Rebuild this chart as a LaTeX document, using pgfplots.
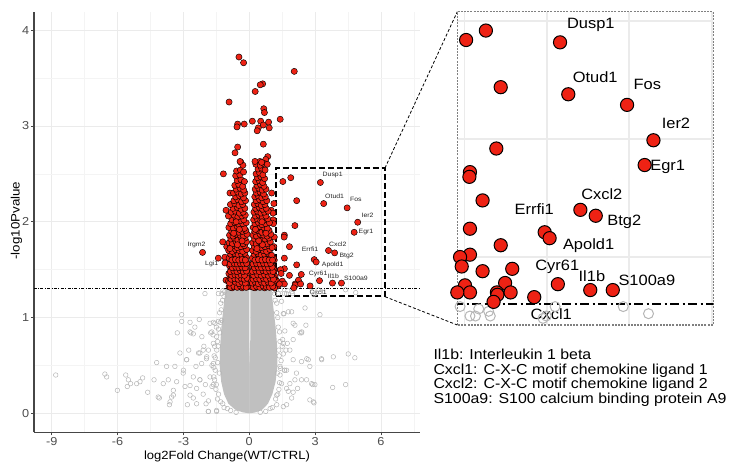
\documentclass[border=0pt]{standalone}
\usepackage{pgfplots}
\pgfplotsset{compat=1.18}
\usepackage{pgfplotstable}
\usepackage{fontspec}
\setmainfont{Liberation Sans}[FakeStretch=1.1]
\definecolor{ptred}{RGB}{238,34,20}
\definecolor{ptgray}{RGB}{182,182,182}
\definecolor{blobgray}{RGB}{192,192,192}
\definecolor{gridmaj}{RGB}{235,235,235}
\definecolor{gridmin}{RGB}{244,244,244}
\definecolor{ticktxt}{RGB}{77,77,77}
\definecolor{axisline}{RGB}{70,70,70}

% scattered non-significant genes (open grey circles)
\pgfplotstableread{
x y
-8.82 0.40
-6.58 0.41
-6.50 0.38
-6.01 0.24
-5.63 0.40
-5.51 0.35
-5.56 0.28
-5.41 0.31
-5.13 0.31
-4.86 0.37
-4.98 0.33
-4.63 0.22
-4.34 0.35
-4.22 0.53
-4.15 0.17
-4.10 0.16
-3.92 0.31
-3.77 0.49
-3.69 0.35
-3.64 0.09
-3.54 0.17
-3.46 0.24
-3.39 0.49
-3.31 0.33
-3.28 0.84
-3.16 0.63
-3.08 1.03
-3.08 0.96
-3.01 0.42
-2.93 0.28
-2.86 0.56
-2.82 0.09
-2.76 0.66
-2.70 0.95
-2.66 0.84
-2.55 0.16
-2.48 0.90
-2.43 0.49
-2.31 0.63
-2.28 0.98
-2.25 0.35
-2.16 0.80
-2.07 0.70
-2.02 1.25
-1.97 0.10
-1.94 0.59
-1.87 0.02
-1.79 0.94
-1.76 0.84
-1.70 0.28
-1.64 0.73
-1.56 0.94
-1.49 0.02
-1.41 1.25
-1.34 0.84
-1.26 0.97
-1.21 0.10
-2.70 0.85
-2.55 0.83
-1.71 0.85
-1.64 0.95
-1.41 0.96
-1.49 0.80
-2.10 0.66
-2.25 0.63
-1.86 0.66
-1.95 0.57
-2.17 0.52
-1.64 0.52
-2.85 0.56
-3.00 0.45
-2.55 0.38
-2.25 0.35
-1.79 0.38
-2.00 0.30
-1.64 0.30
-2.70 0.29
-2.40 0.26
-3.46 0.19
-3.61 0.12
-2.70 0.19
-2.10 0.20
-1.86 0.13
-2.40 0.10
-1.49 0.03
-1.86 0.02
-1.50 0.30
-1.55 0.45
-1.60 0.60
-1.45 0.75
-1.50 0.90
-1.35 1.05
-1.30 1.15
-1.25 1.25
-1.40 0.20
-1.30 0.12
-1.15 0.06
-1.62 0.38
-1.70 0.50
-1.58 0.70
-1.65 0.82
-1.20 1.28
-1.12 1.27
-1.45 0.15
-1.52 0.25
-1.58 0.35
-1.62 0.48
-1.55 0.58
-1.48 0.66
-1.42 0.70
-1.40 0.88
-1.32 0.95
-1.28 1.08
-1.22 1.18
-1.15 1.22
-1.00 0.05
-0.85 0.03
-0.60 0.01
-1.36 0.42
-1.44 0.53
1.32 1.25
1.47 1.17
1.58 1.04
1.70 1.25
1.78 1.06
1.93 1.06
2.00 0.94
2.00 0.77
2.31 0.84
2.38 0.84
2.54 1.10
2.58 0.92
2.00 0.56
2.08 0.35
2.20 0.26
2.38 0.54
2.69 0.56
2.76 0.49
2.84 0.31
2.89 0.30
2.76 0.14
2.95 0.11
3.22 1.03
3.29 0.57
3.83 0.59
4.51 0.62
4.81 0.58
4.39 0.30
1.67 0.66
1.73 0.73
1.52 0.77
1.62 0.45
1.85 0.31
1.78 0.23
1.93 0.16
1.70 0.09
1.55 1.04
2.08 0.92
1.62 0.86
2.39 0.85
1.55 0.73
1.85 0.66
2.62 0.57
3.30 0.56
1.40 0.49
1.70 0.45
2.15 0.42
2.38 0.35
1.47 0.31
1.70 0.26
1.25 0.19
2.00 0.22
2.61 0.35
2.99 0.30
2.92 0.12
3.80 0.27
1.25 0.09
1.55 0.07
1.35 0.25
1.40 0.40
1.45 0.55
1.50 0.70
1.38 0.85
1.30 1.00
1.25 1.15
1.15 1.25
1.20 0.15
1.05 0.06
1.55 0.62
1.60 0.45
1.30 0.20
1.38 0.32
1.42 0.47
1.36 0.60
1.40 0.75
1.32 0.90
1.25 1.05
1.18 1.18
1.10 1.28
0.95 0.05
0.75 0.02
0.50 0.01
1.28 0.42
1.34 0.66
1.42 1.29
1.76 1.28
1.94 1.27
1.60 1.25
1.97 1.25
3.15 1.29
4.39 1.29
4.85 1.26
2.93 1.24
2.99 1.25
}\graytab

% outline of the dense cloud of non-significant genes (left and right halves)
\pgfplotstableread{
x y
0.00 0.00
-0.30 0.01
-0.65 0.04
-0.95 0.10
-1.15 0.20
-1.28 0.33
-1.35 0.50
-1.33 0.70
-1.27 0.90
-1.18 1.10
-1.08 1.30
-0.02 1.30
-0.02 0.80
0.02 0.45
0.02 0.00
}\blobL
\pgfplotstableread{
x y
0.00 0.00
0.30 0.01
0.60 0.04
0.85 0.10
1.05 0.20
1.20 0.33
1.28 0.50
1.27 0.70
1.20 0.90
1.10 1.10
1.00 1.30
0.05 1.30
0.05 0.80
0.00 0.45
}\blobR

% significant genes (red)
\pgfplotstableread{
x y
-0.47 3.72
-0.26 3.66
2.05 3.57
0.61 3.44
0.50 3.43
0.27 3.36
-0.92 3.25
0.66 3.18
0.69 3.14
1.41 3.07
0.14 3.05
0.52 3.05
0.88 3.04
-0.53 3.02
-0.23 3.02
-0.56 2.99
0.64 3.01
0.91 2.98
0.41 2.98
0.36 2.95
0.64 2.81
-0.53 2.78
-0.65 2.72
0.84 2.68
0.75 2.65
-0.38 2.62
0.49 2.63
-2.13 1.68
-1.41 1.62
-1.18 2.50
-0.88 2.30
-1.06 2.12
-1.21 1.79
-1.11 1.63
-1.11 1.57
-1.03 1.74
-1.06 1.39
1.02 2.30
1.00 2.12
1.09 2.02
1.12 2.19
1.08 2.09
1.10 1.98
1.14 1.84
1.12 1.74
1.14 1.60
1.16 1.50
1.18 1.41
1.20 1.34
1.13 1.48
1.17 1.43
1.26 1.38
1.30 1.33
1.53 2.42
1.89 2.46
2.16 2.22
2.08 1.96
1.60 1.86
1.59 1.84
1.83 1.74
1.60 1.62
2.16 1.55
1.60 1.51
1.42 1.50
1.45 1.46
1.83 1.44
2.37 1.45
2.24 1.39
1.51 1.38
1.60 1.35
2.09 1.35
2.10 1.34
2.03 1.31
2.34 1.35
1.37 1.35
2.77 1.33
3.24 2.41
3.39 2.19
4.46 2.145
4.94 1.995
4.78 1.89
3.61 1.70
3.89 1.675
2.96 1.605
3.05 1.58
3.20 1.385
3.79 1.36
4.20 1.36
-0.92 1.32
-0.78 1.31
-0.62 1.33
-0.48 1.32
-0.33 1.31
-0.20 1.33
-0.08 1.32
-0.85 1.35
-0.70 1.36
-0.55 1.34
-0.40 1.35
-0.27 1.36
-0.12 1.35
-0.95 1.38
-0.80 1.39
-0.64 1.37
-0.50 1.38
-0.36 1.39
-0.22 1.38
-0.07 1.37
-0.88 1.42
-0.72 1.41
-0.58 1.43
-0.44 1.42
-0.30 1.41
-0.15 1.43
-0.93 1.46
-0.77 1.47
-0.62 1.45
-0.47 1.46
-0.33 1.47
-0.19 1.45
-0.06 1.46
-0.84 1.50
-0.69 1.51
-0.53 1.49
-0.39 1.50
-0.25 1.51
-0.11 1.50
-0.90 1.54
-0.74 1.53
-0.60 1.55
-0.45 1.54
-0.30 1.53
-0.16 1.55
-0.82 1.58
-0.66 1.59
-0.52 1.57
-0.37 1.58
-0.22 1.59
-0.09 1.57
-0.92 1.62
-0.76 1.61
-0.58 1.63
-0.43 1.62
-0.28 1.61
-0.14 1.63
-0.85 1.66
-0.68 1.67
-0.51 1.65
-0.35 1.66
-0.20 1.67
-0.94 1.70
-0.78 1.69
-0.62 1.71
-0.46 1.70
-0.30 1.69
-0.12 1.71
-0.87 1.74
-0.70 1.75
-0.55 1.73
-0.38 1.74
-0.22 1.75
-0.92 1.78
-0.77 1.77
-0.60 1.79
-0.44 1.78
-0.28 1.77
-0.13 1.79
-0.84 1.82
-0.68 1.83
-0.52 1.81
-0.35 1.82
-0.19 1.83
-0.90 1.86
-0.74 1.85
-0.58 1.87
-0.42 1.86
-0.26 1.85
-0.10 1.87
-0.80 1.90
-0.64 1.91
-0.48 1.89
-0.31 1.90
-0.16 1.91
-0.93 1.94
-0.72 1.93
-0.55 1.95
-0.38 1.94
-0.22 1.93
-0.85 1.98
-0.66 1.99
-0.47 1.97
-0.30 1.98
-0.14 1.99
-0.78 2.02
-0.60 2.03
-0.42 2.01
-0.25 2.02
-0.95 2.06
-0.70 2.07
-0.52 2.05
-0.34 2.06
-0.18 2.07
-0.82 2.10
-0.63 2.11
-0.45 2.09
-0.28 2.10
-0.74 2.14
-0.55 2.15
-0.37 2.13
-0.20 2.14
-0.86 2.18
-0.66 2.19
-0.47 2.17
-0.30 2.18
-0.70 2.22
-0.52 2.23
-0.35 2.21
-0.17 2.22
-0.62 2.26
-0.44 2.27
-0.26 2.25
-0.72 2.30
-0.53 2.31
-0.36 2.29
-0.20 2.30
-0.60 2.34
-0.42 2.35
-0.25 2.33
-0.66 2.38
-0.48 2.39
-0.30 2.37
-0.55 2.43
-0.38 2.44
-0.22 2.42
-0.62 2.48
-0.43 2.49
-0.58 2.53
-0.40 2.54
-0.26 2.52
-0.29 2.59
-0.42 2.63
-0.86 1.315
-0.70 1.325
-0.55 1.315
-0.41 1.33
-0.26 1.32
-0.14 1.315
-0.90 1.36
-0.63 1.37
-0.47 1.355
-0.34 1.37
-0.18 1.36
-0.83 1.40
-0.66 1.405
-0.51 1.40
-0.37 1.41
-0.23 1.40
-0.10 1.41
-0.80 1.44
-0.65 1.445
-0.51 1.44
-0.37 1.445
-0.22 1.44
-0.86 1.48
-0.70 1.485
-0.56 1.48
-0.41 1.49
-0.27 1.48
-0.13 1.485
-0.77 1.52
-0.61 1.525
-0.47 1.52
-0.33 1.525
-0.19 1.52
-0.87 1.56
-0.69 1.565
-0.55 1.56
-0.41 1.565
-0.26 1.56
-0.12 1.565
-0.79 1.60
-0.63 1.605
-0.48 1.60
-0.33 1.605
-0.18 1.60
-0.88 1.72
-0.54 1.76
-0.33 1.80
-0.71 1.88
-0.45 1.92
-0.60 2.00
0.12 1.32
0.26 1.31
0.40 1.33
0.55 1.32
0.70 1.31
0.85 1.33
1.00 1.32
1.15 1.31
0.18 1.35
0.33 1.36
0.48 1.34
0.62 1.35
0.78 1.36
0.93 1.34
1.08 1.35
0.10 1.38
0.24 1.39
0.40 1.37
0.56 1.38
0.71 1.39
0.86 1.37
1.02 1.38
1.18 1.39
0.16 1.42
0.31 1.41
0.46 1.43
0.63 1.42
0.78 1.41
0.94 1.43
1.10 1.42
0.12 1.46
0.27 1.47
0.42 1.45
0.57 1.46
0.73 1.47
0.88 1.45
1.04 1.46
0.19 1.50
0.35 1.51
0.50 1.49
0.66 1.50
0.82 1.51
0.98 1.49
1.12 1.50
0.13 1.54
0.28 1.53
0.44 1.55
0.60 1.54
0.75 1.53
0.91 1.55
1.06 1.54
0.20 1.58
0.36 1.59
0.52 1.57
0.68 1.58
0.84 1.59
1.00 1.57
0.14 1.62
0.30 1.61
0.46 1.63
0.62 1.62
0.78 1.61
0.95 1.63
1.10 1.62
0.22 1.66
0.38 1.67
0.54 1.65
0.70 1.66
0.86 1.67
1.02 1.65
0.15 1.70
0.31 1.69
0.47 1.71
0.63 1.70
0.79 1.69
0.94 1.71
0.23 1.74
0.39 1.75
0.55 1.73
0.71 1.74
0.88 1.75
1.04 1.73
0.16 1.78
0.32 1.77
0.48 1.79
0.64 1.78
0.80 1.77
0.96 1.79
0.24 1.82
0.40 1.83
0.56 1.81
0.72 1.82
0.89 1.83
0.17 1.86
0.33 1.85
0.49 1.87
0.65 1.86
0.81 1.85
0.98 1.87
0.25 1.90
0.41 1.91
0.57 1.89
0.73 1.90
0.90 1.91
0.18 1.94
0.34 1.93
0.50 1.95
0.66 1.94
0.82 1.93
0.26 1.98
0.42 1.99
0.58 1.97
0.74 1.98
0.92 1.99
0.20 2.02
0.36 2.03
0.52 2.01
0.68 2.02
0.84 2.03
0.28 2.06
0.44 2.07
0.60 2.05
0.76 2.06
0.21 2.10
0.37 2.11
0.53 2.09
0.69 2.10
0.86 2.11
0.29 2.14
0.45 2.15
0.61 2.13
0.77 2.14
0.23 2.18
0.39 2.19
0.55 2.17
0.71 2.18
0.31 2.22
0.47 2.23
0.63 2.21
0.80 2.22
0.25 2.26
0.41 2.27
0.57 2.25
0.73 2.26
0.33 2.30
0.49 2.31
0.65 2.29
0.27 2.34
0.43 2.35
0.59 2.33
0.76 2.34
0.35 2.38
0.51 2.39
0.67 2.37
0.29 2.42
0.45 2.43
0.61 2.41
0.37 2.46
0.53 2.47
0.70 2.45
0.31 2.50
0.47 2.51
0.62 2.49
0.40 2.55
0.56 2.56
0.72 2.54
0.30 2.60
0.50 2.59
0.66 2.61
0.82 2.60
0.26 2.63
0.56 2.62
0.19 1.315
0.33 1.325
0.48 1.315
0.63 1.33
0.78 1.32
0.92 1.315
1.07 1.325
0.14 1.36
0.27 1.37
0.41 1.355
0.55 1.37
0.70 1.36
0.86 1.37
1.00 1.36
0.17 1.40
0.32 1.405
0.48 1.40
0.64 1.41
0.79 1.40
0.95 1.41
1.10 1.40
0.20 1.44
0.38 1.445
0.54 1.44
0.70 1.445
0.86 1.44
1.02 1.445
0.15 1.48
0.30 1.485
0.46 1.48
0.62 1.49
0.77 1.48
0.93 1.485
1.08 1.48
0.24 1.52
0.40 1.525
0.56 1.52
0.72 1.525
0.88 1.52
1.04 1.525
0.17 1.56
0.33 1.565
0.49 1.56
0.65 1.565
0.81 1.56
0.97 1.565
0.26 1.60
0.42 1.605
0.58 1.60
0.74 1.605
0.90 1.60
1.06 1.60
0.35 1.72
0.60 1.76
0.43 1.80
0.76 1.88
0.28 1.92
0.58 2.00
}\redtab

\begin{document}
\begin{tikzpicture}[x=1bp,y=1bp]
\useasboundingbox (0,0) rectangle (731,464);

% ---------------- main volcano plot ----------------
\begin{axis}[
  at={(34bp,31.7bp)}, anchor=south west,
  width=386bp, height=420.3bp, scale only axis,
  xmin=-9.81, xmax=7.78, ymin=-0.198, ymax=4.19,
  axis x line*=bottom, axis y line*=left,
  axis line style={axisline, line width=1.1bp, -},
  xtick={-9,-6,-3,0,3,6}, xticklabels={-9,-6,-3,0,3,6},
  ytick={0,1,2,3,4}, yticklabels={0,1,2,3,4},
  minor xtick={-7.5,-4.5,-1.5,1.5,4.5,7.5},
  minor ytick={0.5,1.5,2.5,3.5},
  grid=both,
  major grid style={gridmaj, line width=0.9bp},
  minor grid style={gridmin, line width=0.6bp},
  tick align=outside, major tick length=3bp, minor tick length=0pt,
  tick style={axisline, line width=0.8bp},
  ticklabel style={font=\fontsize{11.6}{12}\selectfont, text=ticktxt},
  xticklabel style={inner sep=1.5bp},
  yticklabel style={inner sep=1.5bp},
]
\addplot[fill=blobgray, draw=none] table {\blobL};
\addplot[fill=blobgray, draw=none] table {\blobR};
\addplot[only marks, mark=o, mark size=2.3bp, mark options={draw=ptgray, line width=0.5bp}] table {\graytab};
\addplot[black, line width=0.5bp, dash pattern=on 3bp off 1.5bp on 0.8bp off 1.5bp] coordinates {(-12,1.301) (9,1.301)};
\addplot[only marks, mark=*, mark size=3.1bp, mark options={fill=ptred, draw=black, line width=0.45bp}] table {\redtab};
\draw[black, line width=2bp, dash pattern=on 6bp off 3bp] (axis cs:1.22,1.22) rectangle (axis cs:6.18,2.56);
\begin{scope}[font=\fontsize{6.3}{7}\selectfont, text=black!85, inner sep=0pt]
\node at (axis cs:3.80,2.49) {Dusp1};
\node at (axis cs:3.89,2.27) {Otud1};
\node at (axis cs:4.86,2.23) {Fos};
\node at (axis cs:5.39,2.07) {Ier2};
\node at (axis cs:5.32,1.89) {Egr1};
\node at (axis cs:4.03,1.77) {Cxcl2};
\node at (axis cs:2.77,1.71) {Errfi1};
\node at (axis cs:4.44,1.645) {Btg2};
\node at (axis cs:3.80,1.555) {Apold1};
\node at (axis cs:3.14,1.46) {Cyr61};
\node at (axis cs:3.83,1.43) {Il1b};
\node at (axis cs:4.86,1.41) {S100a9};
\node at (axis cs:3.14,1.26) {Cxcl1};
\node at (axis cs:-2.40,1.76) {Irgm2};
\node at (axis cs:-1.71,1.56) {Lgi1};
\end{scope}
\end{axis}

% ---------------- zoomed inset ----------------
\begin{axis}[
  at={(457.3bp,139bp)}, anchor=south west,
  width=256bp, height=313.3bp, scale only axis,
  xmin=1.37, xmax=6.03, ymin=1.212, ymax=2.54,
  xtick={1.5,3,4.5,6}, ytick={1.5,2,2.5},
  xticklabels={}, yticklabels={},
  major tick length=0pt,
  grid=major, major grid style={gridmaj, line width=1.8bp},
  axis line style={draw=gray, line width=1.1bp, dash pattern=on 2bp off 1.2bp},
]
\addplot[only marks, mark=o, mark size=5bp, mark options={draw=ptgray, line width=1bp}] table {\graytab};
\addplot[black, line width=1.5bp, dash pattern=on 9bp off 3.5bp on 2bp off 3.5bp] coordinates {(0,1.301) (8,1.301)};
\addplot[only marks, mark=*, mark size=6.6bp, mark options={fill=ptred, draw=black, line width=1bp}] table {\redtab};
\begin{scope}[font=\fontsize{15}{16}\selectfont, text=black, inner sep=0pt]
\node at (axis cs:3.80,2.485) {Dusp1};
\node at (axis cs:3.88,2.263) {Otud1};
\node at (axis cs:4.83,2.23) {Fos};
\node at (axis cs:5.35,2.065) {Ier2};
\node at (axis cs:5.20,1.884) {Egr1};
\node at (axis cs:4.00,1.767) {Cxcl2};
\node at (axis cs:2.77,1.703) {Errfi1};
\node at (axis cs:4.41,1.65) {Btg2};
\node at (axis cs:3.76,1.55) {Apold1};
\node at (axis cs:3.19,1.46) {Cyr61};
\node at (axis cs:3.82,1.417) {Il1b};
\node at (axis cs:4.82,1.40) {S100a9};
\node at (axis cs:3.08,1.26) {Cxcl1};
\end{scope}
\end{axis}

% connector lines
\draw[black, line width=0.8bp, dash pattern=on 3bp off 2bp] (385,296) -- (457.3,452.3);
\draw[black, line width=0.8bp, dash pattern=on 3bp off 2bp] (385,167.3) -- (457.3,139);

% axis titles
\node[anchor=base, font=\fontsize{11.9}{13}\selectfont] at (227,4.7) {log2Fold Change(WT/CTRL)};
\node[rotate=90, anchor=base, font=\fontsize{12.2}{13}\selectfont] at (19.5,243.3) {-log10Pvalue};

% gene name notes
\begin{scope}[font=\fontsize{14.5}{15}\selectfont, inner sep=0pt]
\node[anchor=base west] at (433.3,104.7) {Il1b: Interleukin 1 beta};
\node[anchor=base west] at (433.3,89.7) {Cxcl1: C-X-C motif chemokine ligand 1};
\node[anchor=base west] at (433.3,75) {Cxcl2: C-X-C motif chemokine ligand 2};
\node[anchor=base west] at (433.3,60.7) {S100a9: S100 calcium binding protein A9};
\end{scope}
\end{tikzpicture}
\end{document}
